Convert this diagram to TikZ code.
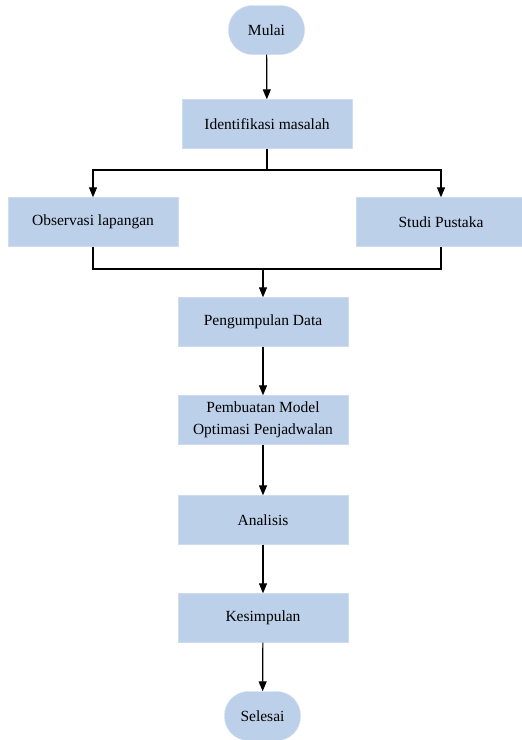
\documentclass[tikz,border=0pt]{standalone}
\usepackage{fontspec}
\setmainfont{Liberation Serif}
\usepackage{tikz}
\usetikzlibrary{arrows.meta,positioning}
\definecolor{boxblue}{HTML}{BDD0E9}
\definecolor{boxline}{HTML}{CFDCEE}

\begin{document}
\begin{tikzpicture}[x=1pt, y=-1pt,
  proses/.style={rectangle, fill=boxblue, draw=boxline, minimum width=170pt, minimum height=49pt,
    align=center, font=\fontsize{15.5}{22}\selectfont},
  terminal/.style={rectangle, rounded corners=24pt, fill=boxblue, draw=boxline, minimum width=76pt,
    minimum height=49pt, font=\fontsize{15.5}{22}\selectfont},
  alur/.style={line width=1.2pt, -{Triangle[width=8pt,length=10pt]}}]
\useasboundingbox (0,0) rectangle (522,740);

\node [terminal] (mulai) at (266.5,30) {Mulai};
\node [proses] (ident) at (267,124) {Identifikasi masalah};
\node [proses] (obs) at (93,222) {Observasi lapangan};
\node [proses] (studi) at (441,222) {Studi Pustaka};
\node [proses] (kumpul) at (263,322) {Pengumpulan Data};
\node [proses] (model) at (263,420) {Pembuatan Model\\Optimasi Penjadwalan};
\node [proses] (analisis) at (263,520) {Analisis};
\node [proses] (simpul) at (263,618) {Kesimpulan};
\node [terminal] (selesai) at (262.5,716) {Selesai};

\coordinate (cabang) at (267,170);
\coordinate (gabung) at (263,269);

\draw [alur] (mulai) -- (ident);
\draw [line width=1.2pt] (ident.south) -- (cabang);
\draw [alur] (cabang) -| (obs.north);
\draw [alur] (cabang) -| (studi.north);
\draw [line width=1.2pt] (obs.south) |- (gabung) -| (studi.south);
\draw [alur] (gabung) -- (kumpul);
\draw [alur] (kumpul) -- (model);
\draw [alur] (model) -- (analisis);
\draw [alur] (analisis) -- (simpul);
\draw [alur] (simpul) -- (selesai);
\end{tikzpicture}
\end{document}
